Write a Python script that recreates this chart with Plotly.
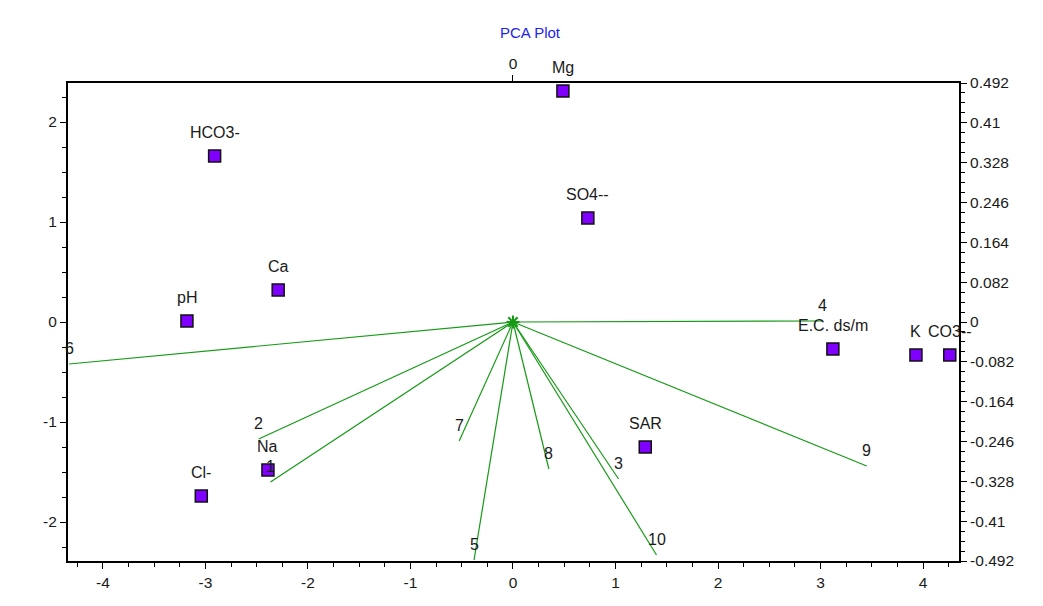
import plotly.graph_objects as go

# Scores (variables shown as squares)
score_names = ["Mg", "SO4--", "HCO3-", "Ca", "pH", "Cl-", "Na", "SAR", "E.C. ds/m", "K", "CO3--"]
score_x = [0.487, 0.73, -2.91, -2.29, -3.18, -3.04, -2.39, 1.29, 3.12, 3.93, 4.26]
score_y = [2.31, 1.04, 1.66, 0.32, 0.01, -1.74, -1.48, -1.25, -0.27, -0.33, -0.33]

# Loading vectors (numbered samples)
load_names = ["1", "2", "3", "4", "5", "6", "7", "8", "9", "10"]
load_x = [-2.365, -2.48, 1.03, 3.02, -0.38, -4.33, -0.525, 0.35, 3.45, 1.40]
load_y = [-1.60, -1.17, -1.57, 0.01, -2.38, -0.42, -1.19, -1.47, -1.44, -2.33]

# Axis ticks
x_ticks = [-4, -3, -2, -1, 0, 1, 2, 3, 4]
x_ticktext = ["-4", "-3", "-2", "-1", "0", "1", "2", "3", "4"]
y_ticks = [-2, -1, 0, 1, 2]
y_ticktext = ["-2", "-1", "0", "1", "2"]
y2_ticks = [0.492, 0.41, 0.328, 0.246, 0.164, 0.082, 0, -0.082, -0.164, -0.246, -0.328, -0.41, -0.492]
y2_ticktext = ["0.492", "0.41", "0.328", "0.246", "0.164", "0.082", "0", "-0.082", "-0.164", "-0.246", "-0.328", "-0.41", "-0.492"]

GREEN = "#169a16"
PURPLE = "#8000ff"
FONT = "Liberation Sans"
TEXTC = "#1a1a1a"

fig = go.Figure()

for name, lx, ly in zip(load_names, load_x, load_y):
    fig.add_trace(go.Scatter(x=[0, lx], y=[0, ly], mode="lines",
                             line=dict(color=GREEN, width=1.2),
                             showlegend=False, hoverinfo="skip"))

fig.add_trace(go.Scatter(x=[0], y=[0], mode="markers",
                         marker=dict(symbol="asterisk-open", size=11, color=GREEN,
                                     line=dict(color=GREEN, width=2)),
                         showlegend=False, hoverinfo="skip"))

fig.add_trace(go.Scatter(x=score_x, y=score_y, mode="markers", text=score_names,
                         marker=dict(symbol="square", size=12, color=PURPLE,
                                     line=dict(color="#111111", width=1.5)),
                         showlegend=False, cliponaxis=False))

# invisible trace to activate the secondary axes
fig.add_trace(go.Scatter(x=[0], y=[0], xaxis="x2", yaxis="y2", mode="markers",
                         marker=dict(opacity=0), showlegend=False, hoverinfo="skip"))

annotations = []
for name, sx, sy in zip(score_names, score_x, score_y):
    annotations.append(dict(x=sx, y=sy, xref="x", yref="y", text=name, showarrow=False,
                            yshift=24, font=dict(family=FONT, size=16, color=TEXTC)))
for name, lx, ly in zip(load_names, load_x, load_y):
    annotations.append(dict(x=lx, y=ly, xref="x", yref="y", text=name, showarrow=False,
                            yshift=16, font=dict(family=FONT, size=16, color=TEXTC)))
annotations.append(dict(x=(530 - 68) / (959 - 68), y=(561 - 32) / (561 - 83), xref="paper", yref="paper",
                        text="PCA Plot", showarrow=False, xanchor="center", yanchor="middle",
                        font=dict(family=FONT, size=15, color="#2222ee")))

axis_common = dict(showgrid=False, zeroline=False, showline=True, linecolor="black", linewidth=2,
                   ticks="outside", tickcolor="black", ticklen=6, tickwidth=1,
                   tickfont=dict(family=FONT, size=15.5, color=TEXTC))

fig.update_layout(
    width=1043, height=606,
    margin=dict(l=68, r=84, t=83, b=45),
    plot_bgcolor="white", paper_bgcolor="white",
    xaxis=dict(range=[-4.34, 4.35], tickvals=x_ticks, ticktext=x_ticktext,
               minor=dict(dtick=0.25, tick0=0, ticks="outside", ticklen=4, tickcolor="black"),
               **axis_common),
    yaxis=dict(range=[-2.39, 2.39], tickvals=y_ticks, ticktext=y_ticktext,
               minor=dict(dtick=0.25, tick0=0, ticks="outside", ticklen=4, tickcolor="black"),
               **axis_common),
    xaxis2=dict(range=[-4.34, 4.35], overlaying="x", side="top", anchor="y2",
                tickvals=[0], ticktext=["0"], **axis_common),
    yaxis2=dict(range=[-0.492, 0.492], overlaying="y", side="right", anchor="x2",
                tickvals=y2_ticks, ticktext=y2_ticktext,
                minor=dict(dtick=0.0205, tick0=0, ticks="outside", ticklen=4, tickcolor="black"),
                **axis_common),
    annotations=annotations,
)

fig.write_html("out.html", config={"displayModeBar": False},
               post_script="document.body.style.margin='0';")
